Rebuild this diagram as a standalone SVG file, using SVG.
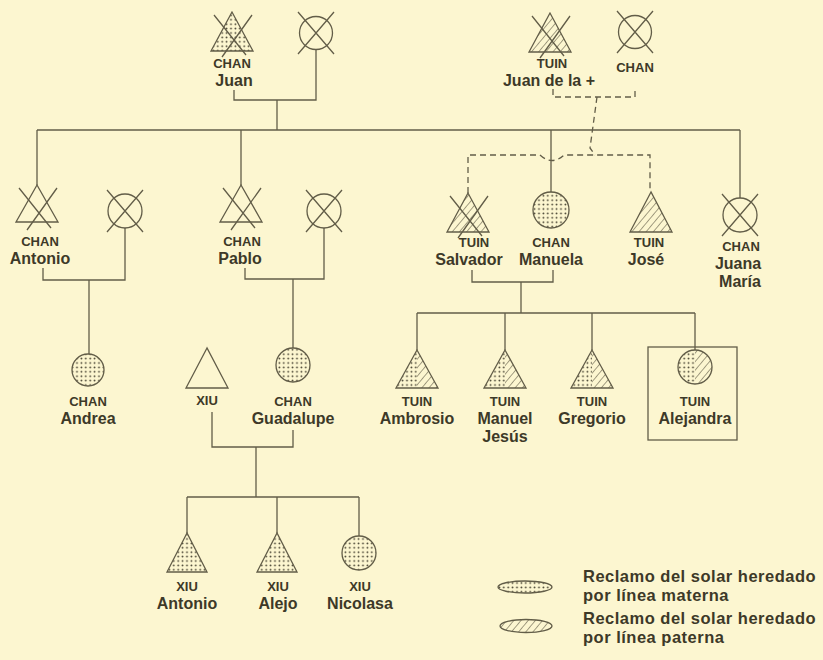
<svg xmlns="http://www.w3.org/2000/svg" width="823" height="660" viewBox="0 0 823 660">
<defs>
<pattern id="dots" width="4.4" height="4.4" patternUnits="userSpaceOnUse"><circle cx="2.2" cy="2.2" r="0.9" fill="#3e3a2a"/></pattern>
<pattern id="hatch" width="5.5" height="5.5" patternUnits="userSpaceOnUse" patternTransform="rotate(40)"><line x1="0" y1="0" x2="0" y2="5.5" stroke="#5a5541" stroke-width="1.1"/></pattern>
<style>
.s{stroke:#625d48;stroke-width:1.3;fill:none}
.o{stroke:#625d48;stroke-width:1.3}
.d{stroke:#625d48;stroke-width:1.3;fill:none;stroke-dasharray:6 4}
.n{fill:none}
.dt{fill:url(#dots)}
.ht{fill:url(#hatch)}
text{font-family:"Liberation Sans",Arial,sans-serif;font-weight:bold;fill:#3d3928;text-anchor:middle}
.c{font-size:13px}
.m{font-size:16px}
.lg{font-size:16.5px;letter-spacing:0.5px;text-anchor:start}
</style>
</defs>
<rect width="823" height="660" fill="#fcf6d0"/>

<g id="connectors">
<path class="s" d="M234,90 V100 H316 V50"/>
<path class="s" d="M277,100 V130"/>
<path class="s" d="M37,130 H740"/>
<path class="s" d="M37,130 V185 M241,130 V185 M551,130 V192 M740,130 V198"/>
<path class="d" d="M553,89 V97 H635 V88"/>
<path class="d" d="M597,97 L590,148 L595,155"/>
<path class="d" d="M468,193 V155 H540 Q552,166 564,155 H650 V192"/>
<path class="s" d="M43,268 V280 H125 V228"/>
<path class="s" d="M89,280 V354"/>
<path class="s" d="M245,268 V279 H324 V228"/>
<path class="s" d="M293,279 V348"/>
<path class="s" d="M472,270 V282 H553 V270"/>
<path class="s" d="M521,282 V313"/>
<path class="s" d="M417,313 H695"/>
<path class="s" d="M417,313 V350 M505,313 V350 M592,313 V350 M695,313 V350"/>
<path class="s" d="M212,412 V447 H293 V430"/>
<path class="s" d="M256,447 V497"/>
<path class="s" d="M187,497 H359"/>
<path class="s" d="M187,497 V533 M277,497 V533 M359,497 V536"/>
</g>

<g id="juan-chan">
<polygon class="o dt" points="232,12 211,51 253,51"/>
<path class="s" d="M214,15 L246,55 M252,15 L222,57"/>
<text class="c" x="232" y="68">CHAN</text>
<text class="m" x="234" y="86">Juan</text>
</g>
<g id="juan-chan-wife">
<circle class="o n" cx="316" cy="33" r="16.5"/>
<path class="s" d="M298,12 L334,54 M334,12 L298,54"/>
</g>
<g id="juan-de-la-tuin">
<polygon class="o ht" points="550,13 529,52 571,52"/>
<path class="s" d="M532,16 L564,56 M570,16 L540,58"/>
<text class="c" x="552" y="68">TUIN</text>
<text class="m" x="549" y="86">Juan de la +</text>
</g>
<g id="chan-wife-top">
<circle class="o n" cx="635" cy="32" r="16.5"/>
<path class="s" d="M617,11 L653,53 M653,11 L617,53"/>
<text class="c" x="635" y="72">CHAN</text>
</g>

<g id="antonio-chan">
<polygon class="o n" points="37,185 16,222 58,222"/>
<path class="s" d="M19,188 L51,228 M57,188 L27,230"/>
<text class="c" x="40" y="246">CHAN</text>
<text class="m" x="40" y="264">Antonio</text>
</g>
<g id="antonio-wife">
<circle class="o n" cx="125" cy="211" r="17"/>
<path class="s" d="M107,190 L143,232 M143,190 L107,232"/>
</g>
<g id="pablo-chan">
<polygon class="o n" points="241,185 220,222 262,222"/>
<path class="s" d="M223,188 L255,228 M261,188 L231,230"/>
<text class="c" x="242" y="246">CHAN</text>
<text class="m" x="240" y="264">Pablo</text>
</g>
<g id="pablo-wife">
<circle class="o n" cx="324" cy="211" r="17"/>
<path class="s" d="M306,190 L342,232 M342,190 L306,232"/>
</g>
<g id="salvador-tuin">
<polygon class="o ht" points="468,193 447,232 489,232"/>
<path class="s" d="M450,196 L482,236 M488,196 L458,238"/>
<text class="c" x="474" y="247">TUIN</text>
<text class="m" x="469" y="265">Salvador</text>
</g>
<g id="manuela-chan">
<circle class="o dt" cx="551" cy="210" r="18"/>
<text class="c" x="551" y="247">CHAN</text>
<text class="m" x="551" y="265">Manuela</text>
</g>
<g id="jose-tuin">
<polygon class="o ht" points="651,192 630,232 672,232"/>
<text class="c" x="649" y="247">TUIN</text>
<text class="m" x="646" y="265">José</text>
</g>
<g id="juana-maria-chan">
<circle class="o n" cx="740" cy="215" r="17"/>
<path class="s" d="M722,194 L758,236 M758,194 L722,236"/>
<text class="c" x="741" y="251">CHAN</text>
<text class="m" x="738" y="269">Juana</text>
<text class="m" x="740" y="287">María</text>
</g>

<g id="andrea-chan">
<circle class="o dt" cx="88" cy="370" r="16"/>
<text class="c" x="88" y="406">CHAN</text>
<text class="m" x="88" y="424">Andrea</text>
</g>
<g id="xiu">
<polygon class="o n" points="207,348 186,388 228,388"/>
<text class="c" x="207" y="405">XIU</text>
</g>
<g id="guadalupe-chan">
<circle class="o dt" cx="293" cy="365" r="17"/>
<text class="c" x="293" y="406">CHAN</text>
<text class="m" x="293" y="424">Guadalupe</text>
</g>
<g id="ambrosio-tuin">
<polygon class="dt" points="417,350 396,388 417,388"/>
<polygon class="ht" points="417,350 417,388 438,388"/>
<polygon class="o n" points="417,350 396,388 438,388"/>
<text class="c" x="417" y="406">TUIN</text>
<text class="m" x="417" y="424">Ambrosio</text>
</g>
<g id="manuel-jesus-tuin">
<polygon class="dt" points="505,350 484,388 505,388"/>
<polygon class="ht" points="505,350 505,388 526,388"/>
<polygon class="o n" points="505,350 484,388 526,388"/>
<text class="c" x="505" y="406">TUIN</text>
<text class="m" x="505" y="424">Manuel</text>
<text class="m" x="505" y="442">Jesús</text>
</g>
<g id="gregorio-tuin">
<polygon class="dt" points="592,350 571,388 592,388"/>
<polygon class="ht" points="592,350 592,388 613,388"/>
<polygon class="o n" points="592,350 571,388 613,388"/>
<text class="c" x="592" y="406">TUIN</text>
<text class="m" x="592" y="424">Gregorio</text>
</g>
<g id="alejandra-tuin">
<rect class="s" x="648" y="347" width="89" height="93"/>
<path class="dt" d="M695,350 A17,17 0 0 0 695,384 Z"/>
<path class="ht" d="M695,350 A17,17 0 0 1 695,384 Z"/>
<circle class="o n" cx="695" cy="367" r="17"/>
<text class="c" x="695" y="406">TUIN</text>
<text class="m" x="695" y="424">Alejandra</text>
</g>

<g id="antonio-xiu">
<polygon class="o dt" points="187,533 167,572 207,572"/>
<text class="c" x="187" y="591">XIU</text>
<text class="m" x="187" y="609">Antonio</text>
</g>
<g id="alejo-xiu">
<polygon class="o dt" points="277,533 257,572 297,572"/>
<text class="c" x="278" y="591">XIU</text>
<text class="m" x="278" y="609">Alejo</text>
</g>
<g id="nicolasa-xiu">
<circle class="o dt" cx="359" cy="553" r="17"/>
<text class="c" x="360" y="591">XIU</text>
<text class="m" x="360" y="609">Nicolasa</text>
</g>

<g id="legend">
<ellipse class="o dt" cx="525" cy="587" rx="27" ry="6"/>
<text class="lg" x="583" y="582">Reclamo del solar heredado</text>
<text class="lg" x="583" y="601">por línea materna</text>
<ellipse class="o ht" cx="526" cy="626" rx="26" ry="6.5"/>
<text class="lg" x="583" y="624">Reclamo del solar heredado</text>
<text class="lg" x="583" y="643">por línea paterna</text>
</g>
</svg>
